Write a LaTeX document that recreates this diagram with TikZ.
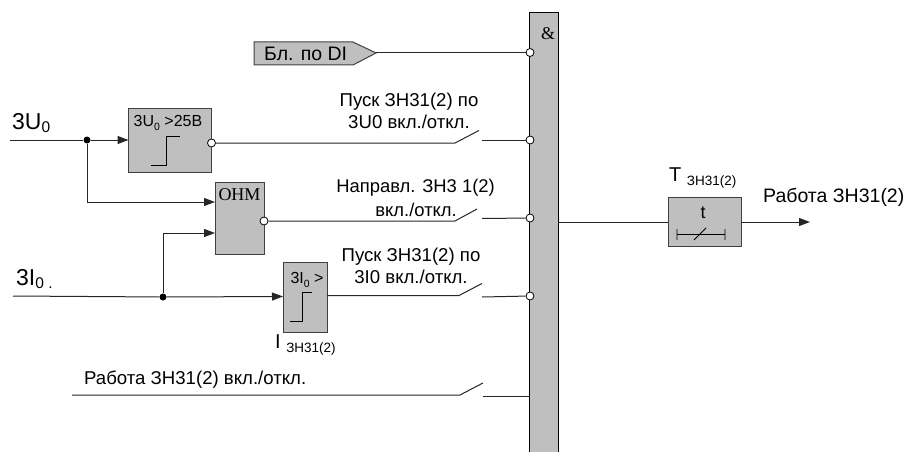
\documentclass[tikz,border=0pt]{standalone}
\usepackage{fontspec}
\setmainfont{Liberation Sans}
\newfontfamily\serifrm{Liberation Serif}
\usetikzlibrary{arrows.meta}
\newcommand{\fsz}[1]{\fontsize{#1}{#1}\selectfont}
\newcommand{\lowtxt}[2]{\raisebox{-3.5pt}{\fsz{#1}#2}}
\tikzset{
	blockbox/.style={draw=black!75,line width=1pt,fill=black!25,anchor=north west,inner sep=0pt,outer sep=0pt},
	invcirc/.style={circle,draw=black,fill=white,line width=.8pt,minimum size=8pt,inner sep=0pt},
	jointdot/.style={circle,fill=black,minimum size=7pt,inner sep=0pt},
	lbl/.style={inner sep=0pt,align=center},
	wire/.style={line width=1pt,color=black!85}
}
\begin{document}
\begin{tikzpicture}[line cap=butt,line join=miter,>={Triangle[length=11pt,width=8pt]},x=1pt,y=-1pt]
	\useasboundingbox (0,0) rectangle (913,452);
	% rail
	\node[draw=black,line width=1pt,fill=black!25,anchor=north west,minimum width=29pt,minimum height=440pt,inner sep=0pt] (andrail) at (529,12.5) {};
	\node[lbl] (andsign) at (548,34) {\serifrm\fsz{18}\&};
	% blocks
	\node[blockbox,minimum width=82.5pt,minimum height=64pt] (boxU) at (128.5,108.5) {};
	\node[blockbox,minimum width=49pt,minimum height=72pt] (boxOhm) at (215,182) {};
	\node[blockbox,minimum width=44pt,minimum height=70pt] (boxI) at (283,262) {};
	\node[blockbox,minimum width=73pt,minimum height=49pt] (boxT) at (668,197) {};
	\node[lbl] (txtU) at (168,123) {\fsz{16}3U\lowtxt{10.5}{0} >25В};
	\node[lbl] (txtOhm) at (239.5,195) {\serifrm\fsz{18}ОНМ};
	\node[lbl] (txtI) at (307,280) {\fsz{16}3I\lowtxt{10.5}{0} >};
	\node[lbl] (txtT) at (703,213) {\fsz{18}t};
	% flag
	\draw[blockbox] (254,42) -- (353,42) -- (376,53) -- (353,65) -- (254,65) -- cycle;
	\node[lbl,anchor=west] (flagtxt) at (264,53.5) {\fsz{19.5}Бл. по DI};
	\coordinate (flagtip) at (376,52.5);
	% circles
	\node[invcirc] (inA) at (530,52.5) {};
	\node[invcirc] (inB) at (530,140) {};
	\node[invcirc] (inC) at (530,218) {};
	\node[invcirc] (inD) at (530,296) {};
	\node[invcirc] (outU) at (211.5,143) {};
	\node[invcirc] (outOhm) at (264,221) {};
	\node[jointdot] (dotU) at (87,140) {};
	\node[jointdot] (dotI) at (163,297) {};
	% inputs
	\coordinate (startU) at (10,140);
	\coordinate (startI) at (13,296);
	\coordinate (kneeU) at (87,202);
	\coordinate (kneeI) at (163,233);
	\draw[wire] (startU) -- (dotU);
	\draw[wire,->] (dotU) -- (128.5,140);
	\draw[wire,->] (dotU) -- (kneeU) -- (215,202);
	\draw[wire] (startI) -- (dotI);
	\draw[wire,->] (dotI) -- (283,296.5);
	\draw[wire,->] (dotI) -- (kneeI) -- (215,233);
	\draw[wire] (flagtip) -- (inA);
	% switches
	\coordinate (swBa) at (455,143);
	\coordinate (swBb) at (479,130.5);
	\coordinate (swBc) at (482,140);
	\coordinate (swCa) at (455,221);
	\coordinate (swCb) at (477,209);
	\coordinate (swCc) at (482,218.5);
	\coordinate (swDa) at (459,295.5);
	\coordinate (swDb) at (482,283.5);
	\coordinate (swDc) at (482,297);
	\coordinate (swEs) at (72,395);
	\coordinate (swEa) at (460,395);
	\coordinate (swEb) at (483,383);
	\coordinate (swEc) at (483,396);
	\coordinate (swEd) at (529,396);
	\draw[wire] (outU) -- (swBa) -- (swBb);
	\draw[wire] (swBc) -- (inB);
	\draw[wire] (outOhm) -- (swCa) -- (swCb);
	\draw[wire] (swCc) -- (inC);
	\draw[wire] (327,295.5) -- (swDa) -- (swDb);
	\draw[wire] (swDc) -- (inD);
	\draw[wire] (swEs) -- (swEa) -- (swEb);
	\draw[wire] (swEc) -- (swEd);
	% output
	\coordinate (outend) at (810,222);
	\draw[wire] (558,222) -- (668,222);
	\draw[wire,->] (741,222) -- (outend);
	% step marks
	\draw[line width=.8pt] (151,165.5) -- (166,165.5) -- (166,136) -- (180,136);
	\draw[line width=.8pt] (290,321) -- (302,321) -- (302,292) -- (312,292);
	\draw[line width=.8pt] (677,229) -- (677,240) (677,234.5) -- (725,234.5) (725,229) -- (725,240) (694,240) -- (706,228);
	% labels
	\node[lbl,anchor=west] (lblU) at (12,123) {\fsz{23}3U\lowtxt{15.5}{0}};
	\node[lbl,anchor=west] (lblI) at (16,279) {\fsz{23}3I\lowtxt{15.5}{0}\lowtxt{15.5}{ .}};
	\node[lbl,anchor=west] (lblIset) at (275,345) {\fsz{20}I \lowtxt{13.5}{ЗН31(2)}};
	\node[lbl,anchor=west] (lblTset) at (669,178) {\fsz{20}T \lowtxt{13.5}{ЗН31(2)}};
	\node[lbl,anchor=west] (lblOut) at (763,197) {\fsz{19.5}Работа ЗН31(2)};
	\node[lbl,anchor=center] (lblB) at (409,111) {\fsz{18.6}Пуск ЗН31(2) по\\[3pt]\fsz{18.6}3U0 вкл./откл.};
	\node[lbl,anchor=east] (lblCa) at (495,188) {\fsz{18.4}Направл. ЗН3 1(2)};
	\node[lbl,anchor=east] (lblCb) at (457,210) {\fsz{18.4}вкл./откл.};
	\node[lbl,anchor=center] (lblD) at (411,266) {\fsz{18.6}Пуск ЗН31(2) по\\[3pt]\fsz{18.6}3I0 вкл./откл.};
	\node[lbl,anchor=west] (lblE) at (84,380) {\fsz{18.6}Работа ЗН31(2) вкл./откл.};
\end{tikzpicture}
\end{document}
